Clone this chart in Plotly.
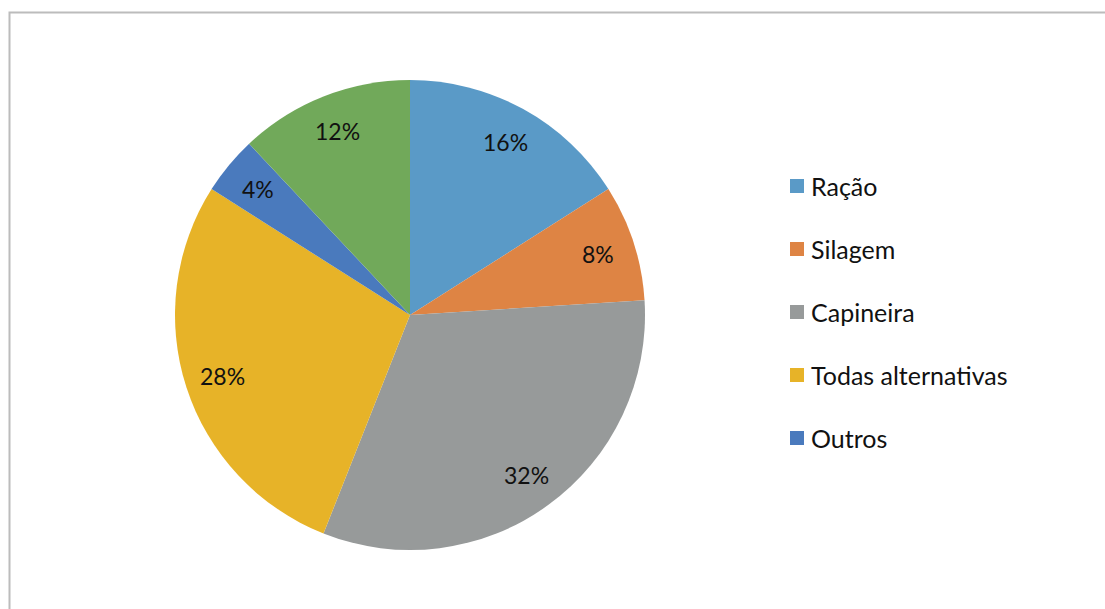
import math
import plotly.graph_objects as go

# Shares of each feed alternative (%)
categories = ["Ração", "Silagem", "Capineira", "Todas alternativas", "Outros", "Pastagem"]
values = [16, 8, 32, 28, 4, 12]
colors = ["#5A9AC7", "#DE8444", "#979A9A", "#E7B328", "#4A7ABD", "#71A95A"]
legend_items = categories[:5]

W, H = 1105, 609
FONT = "Lato, 'Open Sans', sans-serif"

# Pie geometry in pixels
cx, cy, R = 410, 315, 235

fig = go.Figure(
    go.Pie(
        labels=categories,
        values=values,
        sort=False,
        direction="clockwise",
        rotation=0,
        marker=dict(colors=colors, line=dict(width=0)),
        textinfo="none",
        showlegend=False,
        domain=dict(x=[(cx - R) / W, (cx + R) / W],
                    y=[1 - (cy + R) / H, 1 - (cy - R) / H]),
    )
)

# Percentage labels placed along each slice's bisector
total = sum(values)
cum = 0
annotations = []
for v in values:
    mid = (cum + v / 2) / total * 2 * math.pi
    cum += v
    r = 0.84 * R
    px = cx + r * math.sin(mid)
    py = cy - r * math.cos(mid)
    annotations.append(dict(
        x=px / W, y=1 - py / H, xref="paper", yref="paper",
        text=f"{v}%", showarrow=False,
        font=dict(family=FONT, size=23, color="#111111"),
        xanchor="center", yanchor="middle",
    ))

# Legend drawn as swatches and labels
shapes = []
lx, ly0, step, sw = 790, 186, 63, 14
for i, name in enumerate(legend_items):
    yc = ly0 + i * step
    shapes.append(dict(
        type="rect", xref="paper", yref="paper",
        x0=lx / W, x1=(lx + sw) / W,
        y0=1 - (yc + sw / 2) / H, y1=1 - (yc - sw / 2) / H,
        fillcolor=colors[i], line=dict(width=0),
    ))
    annotations.append(dict(
        x=(lx + sw + 5) / W, y=1 - yc / H, xref="paper", yref="paper",
        text=name, showarrow=False,
        font=dict(family=FONT, size=25, color="#111111"),
        xanchor="left", yanchor="middle",
    ))

# Chart frame (top and left edges)
shapes.append(dict(
    type="path", xref="paper", yref="paper",
    path=f"M {9.5 / W} 0 L {9.5 / W} {1 - 12.5 / H} L 1.01 {1 - 12.5 / H}",
    line=dict(color="#BCBCBC", width=2),
))

fig.update_layout(
    width=W, height=H,
    margin=dict(l=0, r=0, t=0, b=0),
    paper_bgcolor="white",
    plot_bgcolor="white",
    annotations=annotations,
    shapes=shapes,
)

fig.write_html("out.html")
